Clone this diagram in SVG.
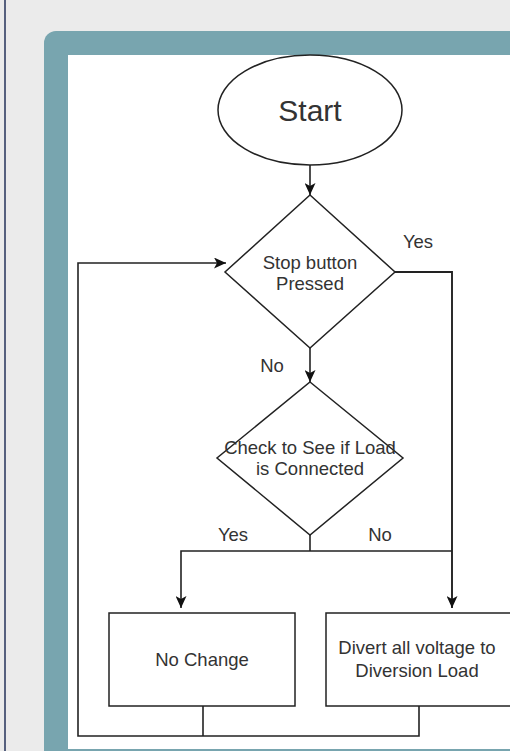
<svg xmlns="http://www.w3.org/2000/svg" width="510" height="751" viewBox="0 0 510 751">
<defs>
<marker id="ah" viewBox="0 0 12 11" refX="12" refY="5.5" markerWidth="12" markerHeight="11" markerUnits="userSpaceOnUse" orient="auto">
<path d="M0,0 L12,5.5 L0,11 L3,5.5 Z" fill="#111"/>
</marker>
<style>
.shape{fill:#fff;stroke:#222;stroke-width:1.5}
.t{font-family:"Liberation Sans",Arial,sans-serif;font-size:18.5px;fill:#333;text-anchor:middle}
.c{fill:none;stroke:#222;stroke-width:1.6}
</style>
</defs>
<rect x="0" y="0" width="510" height="751" fill="#ebebeb"/>
<rect x="4" y="0" width="2" height="751" fill="#56607e"/>
<rect x="44" y="31" width="480" height="740" rx="12" fill="#78a5af"/>
<rect x="68" y="55" width="460" height="694" fill="#ffffff"/>

<g id="connectors">
<path class="c" d="M310,165 L310,195" marker-end="url(#ah)"/>
<path class="c" d="M310,348 L310,382" marker-end="url(#ah)"/>
<path class="c" d="M395,272 L452,272 L452,608" marker-end="url(#ah)" style="stroke-width:1.9"/>
<path class="c" d="M310,535 L310,551"/>
<path class="c" d="M452,551 L181,551 L181,608" marker-end="url(#ah)"/>
<path class="c" d="M203,706 L203,736"/>
<path class="c" d="M419,706 L419,736 L78,736 L78,263 L226,263" marker-end="url(#ah)"/>
<text class="t" x="418" y="248">Yes</text>
<text class="t" x="272" y="372">No</text>
<text class="t" x="233" y="541">Yes</text>
<text class="t" x="380" y="541">No</text>
</g>

<g id="start">
<ellipse class="shape" cx="310" cy="110" rx="92" ry="55"/>
<text class="t" x="310" y="121" style="font-size:30px">Start</text>
</g>

<g id="stop-button">
<polygon class="shape" points="310,195 395,272 310,348 225,272"/>
<text class="t" x="310" y="269">Stop button</text>
<text class="t" x="310" y="290">Pressed</text>
</g>

<g id="check-load">
<polygon class="shape" points="310,382 403,458 310,535 217,458"/>
<text class="t" x="310" y="454">Check to See if Load</text>
<text class="t" x="310" y="475">is Connected</text>
</g>

<g id="no-change">
<rect class="shape" x="109" y="613" width="186" height="93"/>
<text class="t" x="202" y="666">No Change</text>
</g>

<g id="divert">
<rect class="shape" x="326" y="613" width="186" height="93"/>
<text class="t" x="417" y="654">Divert all voltage to</text>
<text class="t" x="417" y="677">Diversion Load</text>
</g>
</svg>
